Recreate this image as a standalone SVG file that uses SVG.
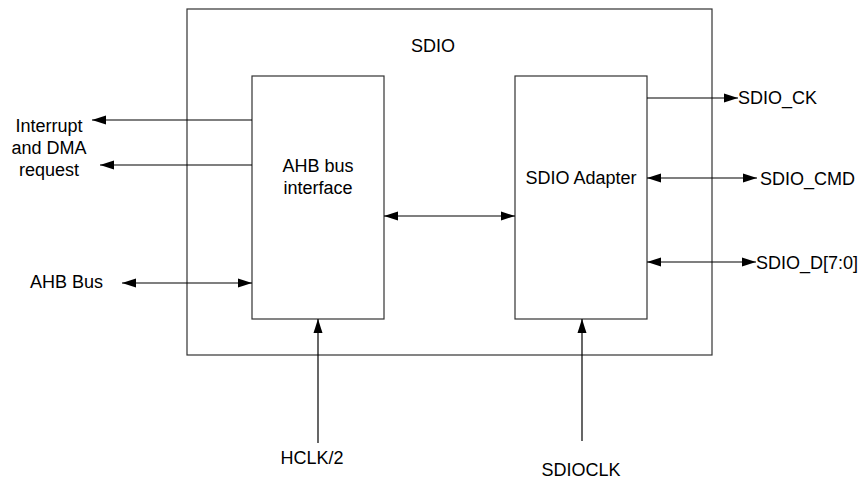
<svg xmlns="http://www.w3.org/2000/svg" width="862" height="479" viewBox="0 0 862 479">
<style>
.box{fill:#fff;stroke:#333;stroke-width:1.2}
.ln{stroke:#000;stroke-width:1.2;fill:none}
text{font-family:"Liberation Sans",Arial,sans-serif;font-size:18px;fill:#000}
</style>
<defs>
<marker id="ah" viewBox="0 0 14 10" refX="14" refY="5" markerWidth="14" markerHeight="10" markerUnits="userSpaceOnUse" orient="auto-start-reverse">
<path d="M0,0.5 L14,5 L0,9.5 Z" fill="#000"/>
</marker>
</defs>
<rect width="862" height="479" fill="#fff"/>
<g id="sdio">
<rect class="box" x="187" y="9" width="525" height="346"/>
<text x="433" y="52" text-anchor="middle">SDIO</text>
</g>
<g id="ahb-interface">
<rect class="box" x="252" y="76" width="132" height="243"/>
<text x="318" y="172" text-anchor="middle">AHB bus</text>
<text x="318" y="194" text-anchor="middle">interface</text>
</g>
<g id="sdio-adapter">
<rect class="box" x="515" y="76" width="132" height="243"/>
<text x="581" y="184" text-anchor="middle">SDIO Adapter</text>
</g>
<g id="labels">
<text x="49" y="132" text-anchor="middle">Interrupt</text>
<text x="49" y="154" text-anchor="middle">and DMA</text>
<text x="49" y="176" text-anchor="middle">request</text>
<text x="30" y="288">AHB Bus</text>
<text x="738" y="104">SDIO_CK</text>
<text x="760" y="185">SDIO_CMD</text>
<text x="756" y="269">SDIO_D[7:0]</text>
<text x="312" y="464" text-anchor="middle">HCLK/2</text>
<text x="581" y="476" text-anchor="middle">SDIOCLK</text>
</g>
<g id="connectors">
<line class="ln" x1="252" y1="120" x2="92" y2="120" marker-end="url(#ah)"/>
<line class="ln" x1="252" y1="165" x2="100" y2="165" marker-end="url(#ah)"/>
<line class="ln" x1="122" y1="283" x2="252" y2="283" marker-start="url(#ah)" marker-end="url(#ah)"/>
<line class="ln" x1="384" y1="216" x2="515" y2="216" marker-start="url(#ah)" marker-end="url(#ah)"/>
<line class="ln" x1="647" y1="98" x2="738" y2="98" marker-end="url(#ah)"/>
<line class="ln" x1="647" y1="178" x2="757" y2="178" marker-start="url(#ah)" marker-end="url(#ah)"/>
<line class="ln" x1="647" y1="262" x2="756" y2="262" marker-start="url(#ah)" marker-end="url(#ah)"/>
<line class="ln" x1="318" y1="443" x2="318" y2="319" marker-end="url(#ah)"/>
<line class="ln" x1="582" y1="441" x2="582" y2="319" marker-end="url(#ah)"/>
</g>
</svg>
